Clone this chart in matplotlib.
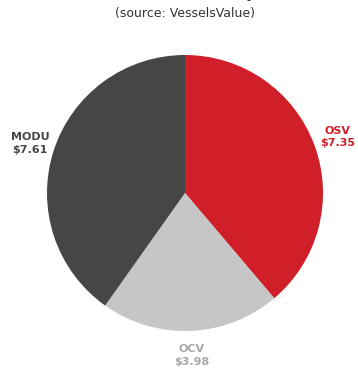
import matplotlib.pyplot as plt

# fleet value by segment, US$ bn
segments = ['OSV', 'OCV', 'MODU']
values = [7.35, 3.98, 7.61]
colors = ['#d01f28', '#c6c6c6', '#464646']
label_colors = ['#d01f28', '#a8a8a8', '#464646']

W, H = 358, 371
fig = plt.figure(figsize=(W / 100, H / 100), dpi=100)
ax = fig.add_axes([0, 0, 1, 1])

labels = ['%s\n$%.2f' % (s, v) for s, v in zip(segments, values)]
wedges, texts = ax.pie(values, labels=labels, colors=colors, startangle=90,
                       counterclock=False, center=(185, H - 193), radius=138,
                       labeldistance=1.18, frame=True,
                       wedgeprops=dict(linewidth=0),
                       textprops=dict(fontsize=8, fontweight='bold',
                                      ha='center', va='center',
                                      linespacing=1.3))
ax.set_xlim(0, W)
ax.set_ylim(0, H)
ax.set_aspect('equal')
ax.axis('off')
for t, c in zip(texts, label_colors):
    t.set_color(c)
    t.set_horizontalalignment('center')

# title sits above the top edge, only its descenders show
ax.text(190, H + 2, 'Fleet Value (US$ bn) by Sector', ha='center',
        va='baseline', fontsize=10, fontweight='bold', color='#333333',
        clip_on=False)
ax.text(185, H - 13, '(source: VesselsValue)', ha='center', va='center',
        fontsize=9, color='#333333')

fig.savefig('out.png', dpi=100)
